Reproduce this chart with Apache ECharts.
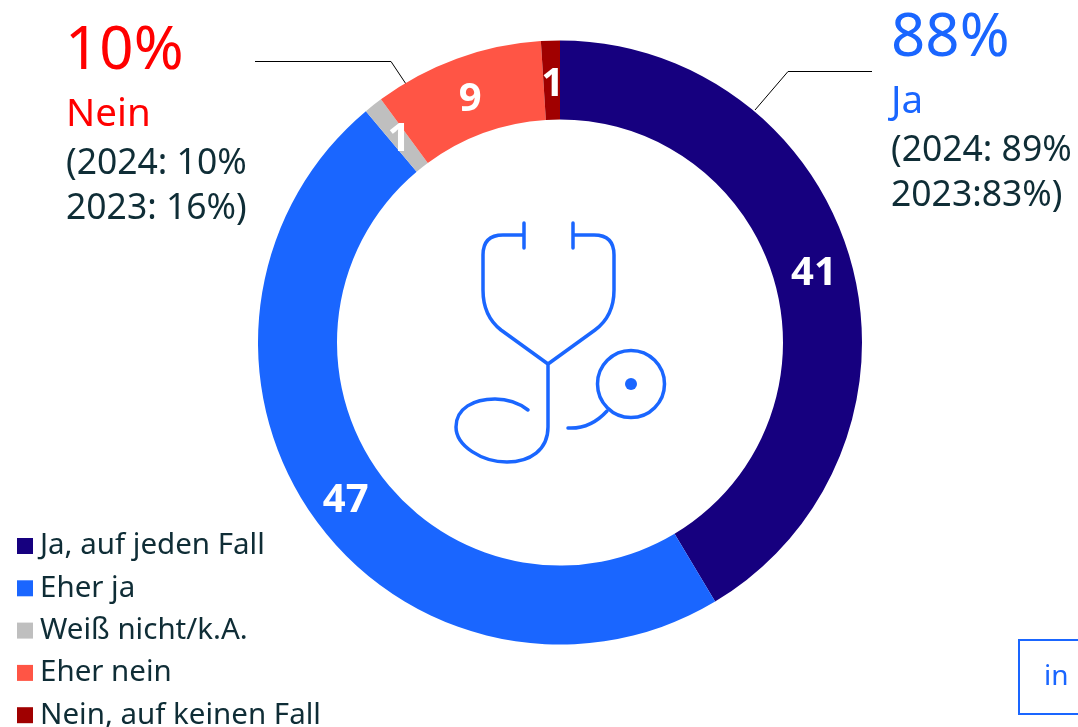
<!DOCTYPE html>
<html><head><meta charset="utf-8">
<style>html,body{margin:0;padding:0;background:#fff}#c{width:1078px;height:727px}</style>
<script src="https://cdn.jsdelivr.net/npm/echarts@6/dist/echarts.min.js"></script>
</head><body><div id="c"></div>
<script>
const categories = ['Ja, auf jeden Fall','Eher ja','Weiß nicht/k.A.','Eher nein','Nein, auf keinen Fall'];
const values = [41,47,1,9,1];
const colors = ['#16007f','#1a66ff','#bfbfbf','#ff5545','#a00000'];
const labelNudges = [[-2,2],[2,4],[3,6],[1,7],[1,7]];
const FONT = '"Noto Sans", sans-serif';
const DARK = '#0f2d36', BLUE = '#1a66ff', RED = '#ff0000';
const icon = 'M524 223V248 M524 235H503Q483 235 483 255V290Q483 316 501 330L548 364L595 330Q614 316 614 290V255Q614 235 594 235H573 M573 223V248 M548 364V427C548 450 530 462 507 462C482 462 456 446 456 427C456 408 474 399 495 399C508 399 519 403 528 410 M607 411C597 422 585 429 568 428';
echarts.graphic.registerShape('stethoscope', echarts.graphic.extendPath(icon, {}));
function t(x,y,text,size,fill){return {type:'text',x,y,style:{text,fontSize:size,fontFamily:FONT,fill,verticalAlign:'middle',align:'left'}};}
const chart = echarts.init(document.getElementById('c'),null,{renderer:'canvas'});
chart.setOption({
  animation:false,
  backgroundColor:'#fff',
  color:colors,
  legend:{orient:'vertical',left:17,top:531,height:400,padding:0,itemWidth:16,itemHeight:16,itemGap:12.3,icon:'rect',
    data:categories,selectedMode:false,
    textStyle:{fontSize:29.5,fontFamily:FONT,color:DARK,padding:[0,0,0,2],lineHeight:28}},
  series:[{type:'pie',center:[560,342.5],radius:[223,302],startAngle:90,clockwise:true,
    data:categories.map((name,i)=>({name,value:values[i],label:{offset:labelNudges[i]}})),
    label:{show:true,position:'inside',formatter:'{c}',color:'#fff',fontSize:40,fontWeight:'bold',fontFamily:FONT},
    labelLine:{show:false},emphasis:{disabled:true},
    itemStyle:{borderWidth:0}}],
  graphic:[
    {type:'stethoscope',style:{fill:'none',stroke:BLUE,lineWidth:3.5,lineCap:'round',lineJoin:'round'}},
    {type:'circle',shape:{cx:631,cy:384,r:33.5},style:{fill:'none',stroke:BLUE,lineWidth:3.5}},
    {type:'circle',shape:{cx:631,cy:384,r:6},style:{fill:BLUE}},
    {type:'polyline',shape:{points:[[755,110],[788,71.5],[872,71.5]]},style:{fill:'none',stroke:'#000',lineWidth:1}},
    {type:'polyline',shape:{points:[[406,84],[391,61.5],[255,61.5]]},style:{fill:'none',stroke:'#000',lineWidth:1}},
    t(891,39,'88%',60,BLUE),t(891,102,'Ja',38.5,BLUE),
    t(891,151,'(2024: 89%',35.5,DARK),t(891,196,'2023:83%)',35.5,DARK),
    t(65,52,'10%',60,RED),t(66,115,'Nein',38.5,RED),
    t(66,164,'(2024: 10%',35.5,DARK),t(66,209,'2023: 16%)',35.5,DARK),
    {type:'polyline',shape:{points:[[1085,640],[1019,640],[1019,714],[1085,714]]},style:{fill:'none',stroke:BLUE,lineWidth:2}},
    t(1044,677,'in',28,BLUE)
  ]
});
</script></body></html>
